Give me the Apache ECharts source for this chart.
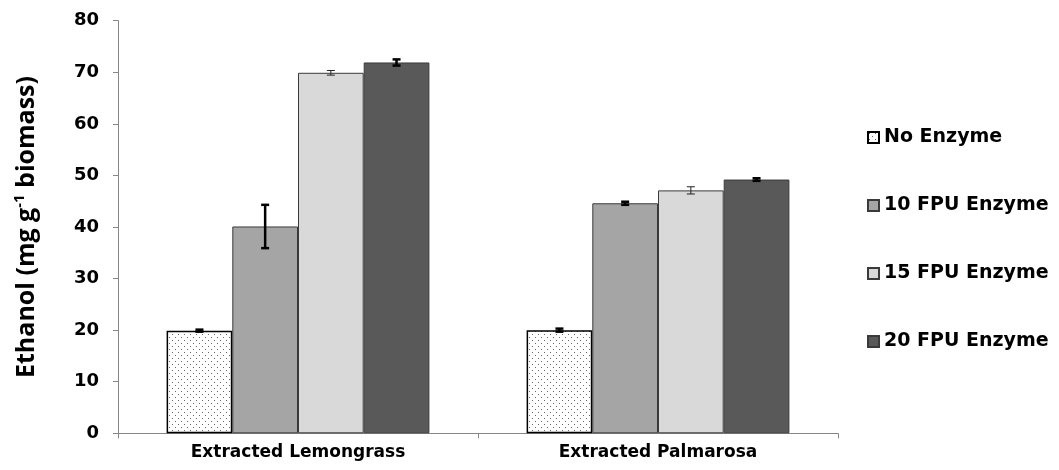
<!DOCTYPE html>
<html>
<head>
<meta charset="utf-8">
<script src="https://cdn.jsdelivr.net/npm/echarts@6/dist/echarts.min.js"></script>
<style>
html,body{margin:0;padding:0;background:#fff;}
#chart{width:1059px;height:470px;}
</style>
</head>
<body>
<div id="chart"></div>
<script>
const categories = ['Extracted Lemongrass', 'Extracted Palmarosa'];
const seriesNames = ['No Enzyme', '10 FPU Enzyme', '15 FPU Enzyme', '20 FPU Enzyme'];
const noEnzyme = [19.9, 20.0];
const fpu10 = [40.1, 44.6];
const fpu15 = [69.9, 47.1];
const fpu20 = [71.9, 49.2];
const errNoEnzyme = [0.2, 0.3];
const err10 = [4.2, 0.3];
const err15 = [0.45, 0.7];
const err20 = [0.6, 0.25];
const yTicks = [0, 10, 20, 30, 40, 50, 60, 70, 80];

const values = [noEnzyme, fpu10, fpu15, fpu20];
const errors = [errNoEnzyme, err10, err15, err20];
const fills = [null, '#a5a5a5', '#d9d9d9', '#595959'];

// dotted pattern for "No Enzyme"
const pc = document.createElement('canvas');
pc.width = 6; pc.height = 6;
const g = pc.getContext('2d');
g.fillStyle = '#ffffff'; g.fillRect(0, 0, 6, 6);
g.fillStyle = '#6a6a6a';
g.fillRect(1, 1, 1, 1);
g.fillRect(4, 4, 1, 1);
const dotPattern = { image: pc, repeat: 'repeat' };

const catGap = 0.27;
const barSeries = values.map((v, i) => ({
  name: seriesNames[i],
  type: 'bar',
  data: v,
  barGap: '0%',
  barCategoryGap: '27%',
  z: 2,
  itemStyle: i === 0
    ? { color: dotPattern, borderColor: '#000', borderWidth: 1.5 }
    : { color: fills[i], borderColor: '#3a3a3a', borderWidth: 1 }
}));

const errSeries = values.map((v, i) => ({
  name: 'err' + i,
  type: 'custom',
  z: 10,
  silent: true,
  data: v.map((val, k) => [k, val - errors[i][k], val + errors[i][k]]),
  renderItem: function (params, api) {
    const k = api.value(0);
    const lo = api.coord([k, api.value(1)]);
    const hi = api.coord([k, api.value(2)]);
    const band = api.size([1, 0])[0];
    const barW = band * (1 - catGap) / 4;
    const x = lo[0] + (i - 1.5) * barW;
    const cap = 4;
    const lw = i === 2 ? 1 : 2.5;
    const col = i === 2 ? '#222' : '#000';
    const st = { stroke: col, lineWidth: lw };
    return {
      type: 'group',
      children: [
        { type: 'line', shape: { x1: x, y1: lo[1], x2: x, y2: hi[1] }, style: st },
        { type: 'line', shape: { x1: x - cap, y1: lo[1], x2: x + cap, y2: lo[1] }, style: st },
        { type: 'line', shape: { x1: x - cap, y1: hi[1], x2: x + cap, y2: hi[1] }, style: st }
      ]
    };
  }
}));

const chart = echarts.init(document.getElementById('chart'), null, { renderer: 'canvas' });
chart.setOption({
  animation: false,
  backgroundColor: '#fff',
  grid: { left: 118, right: 221, top: 20.7, bottom: 36.7, containLabel: false },
  legend: {
    data: seriesNames.map(n => ({ name: n, icon: 'rect' })),
    orient: 'vertical',
    left: 867,
    top: 128,
    padding: 0,
    itemGap: 49,
    itemWidth: 11,
    itemHeight: 11,
    textStyle: { fontFamily: 'DejaVu Sans', fontWeight: 'bold', fontSize: 19, color: '#000' }
  },
  xAxis: {
    type: 'category',
    data: categories,
    axisLine: { lineStyle: { color: '#868686', width: 1 } },
    axisTick: { show: true, length: 5, lineStyle: { color: '#868686' } },
    axisLabel: { margin: 11, fontFamily: 'DejaVu Sans', fontWeight: 'bold', fontSize: 17, color: '#000' }
  },
  yAxis: {
    type: 'value',
    min: yTicks[0],
    max: yTicks[yTicks.length - 1],
    interval: 10,
    splitLine: { show: false },
    axisLine: { show: true, lineStyle: { color: '#868686', width: 1 } },
    axisTick: { show: true, length: 5, lineStyle: { color: '#868686' } },
    axisLabel: { margin: 19, fontFamily: 'DejaVu Sans', fontWeight: 'bold', fontSize: 18, color: '#000' },
    name: '{a|Ethanol (mg g}{s|-1}{a| biomass)}',
    nameLocation: 'middle',
    nameGap: 76,
    nameRotate: 90,
    nameTextStyle: {
      rich: {
        a: { fontFamily: 'Open Sans', fontWeight: 'bold', fontSize: 25, color: '#000', lineHeight: 30 },
        s: { fontFamily: 'Open Sans', fontWeight: 'bold', fontSize: 15, color: '#000', verticalAlign: 'top', lineHeight: 30, padding: [0, 0, 10, 0] }
      }
    }
  },
  series: barSeries.concat(errSeries)
});
</script>
</body>
</html>
